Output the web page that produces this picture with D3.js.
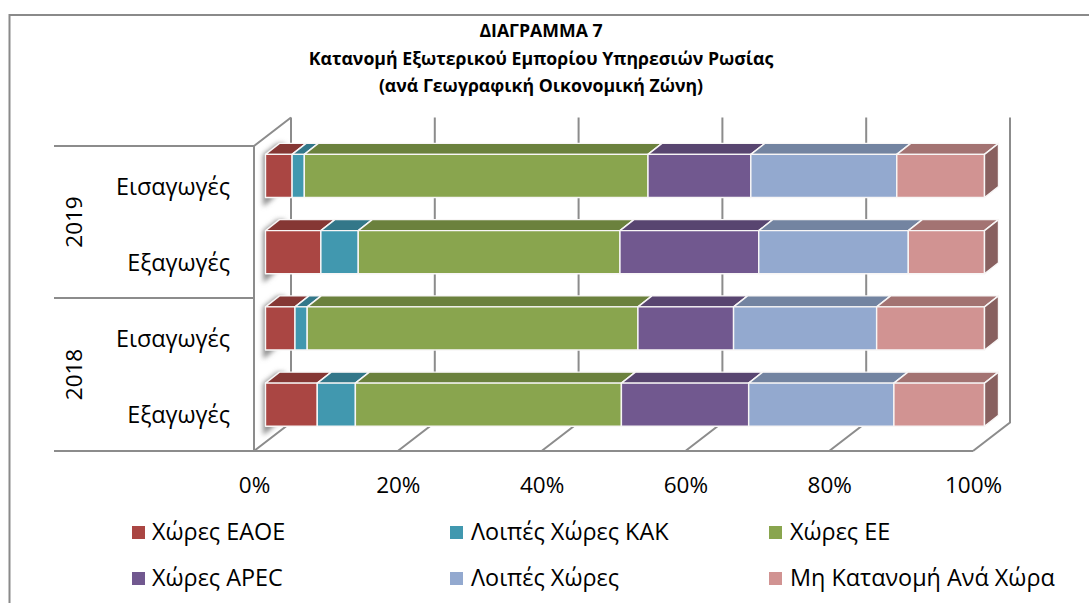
<!DOCTYPE html>
<html>
<head>
<meta charset="utf-8">
<script src="https://d3js.org/d3.v7.min.js"></script>
<style>
  html, body { margin: 0; padding: 0; background: #fff; overflow: hidden; }
  text { font-family: "Open Sans", sans-serif; fill: #000; }
</style>
</head>
<body>
<div id="mid"></div>
<script>
var titleLines = ["ΔΙΑΓΡΑΜΜΑ 7", "Κατανομή Εξωτερικού Εμπορίου Υπηρεσιών Ρωσίας", "(ανά Γεωγραφική Οικονομική Ζώνη)"];
var rows = ["2019-imp", "2019-exp", "2018-imp", "2018-exp"];
var rowLabels = ["Εισαγωγές", "Εξαγωγές", "Εισαγωγές", "Εξαγωγές"];
var years = ["2019", "2018"];
var seriesNames = ["Χώρες ΕΑΟΕ", "Λοιπές Χώρες ΚΑΚ", "Χώρες ΕΕ", "Χώρες APEC", "Λοιπές Χώρες", "Μη Κατανομή Ανά Χώρα"];
var seriesColors = ["#aa4643", "#4198af", "#89a54e", "#71588f", "#93a9cf", "#d19392"];
var eaoe = [3.7, 7.7, 4.1, 7.2];
var kak = [1.7, 5.2, 1.7, 5.3];
var ee = [47.8, 36.4, 46.0, 37.0];
var apec = [14.3, 19.3, 13.3, 17.7];
var loipes = [20.3, 20.8, 19.9, 20.2];
var mh = [12.2, 10.6, 15.0, 12.6];
var ticks = [0, 20, 40, 60, 80, 100];

var width = 1089, height = 603;
var lineColor = "#8c8c8c";
var wallDx = 37, wallDy = -28.5;     // depth of the 3d box
var barDx = 14, barDy = -11;         // depth of a bar
var barOffX = 11.5, barOffY = -8.2;  // bars sit a bit inside the box

var svg = d3.select("#mid").append("svg")
  .attr("width", width)
  .attr("height", height)
  .style("display", "block");

var blur = svg.append("defs").append("filter").attr("id", "soft")
  .attr("x", "-50%").attr("y", "-50%").attr("width", "200%").attr("height", "200%");
blur.append("feGaussianBlur").attr("stdDeviation", 2.6);

// outer frame, only top and left are in the crop
svg.append("path")
  .attr("d", "M9.5,603V15H1089")
  .attr("fill", "none").attr("stroke", "#8a8a8a").attr("stroke-width", 2);

var x = d3.scaleLinear().domain([0, 100]).range([254, 973]);
var y = d3.scaleBand().domain(rows).range([146, 451]).paddingInner(0.436).paddingOuter(0.218);
var top0 = x.range()[0], yTop = y.range()[0], yBot = y.range()[1];

// title
svg.append("g").selectAll("text").data(titleLines).join("text")
  .attr("x", 541)
  .attr("y", function(d, i) { return [37, 65, 92][i]; })
  .attr("text-anchor", "middle")
  .attr("font-size", 17.7)
  .attr("font-weight", 700)
  .text(function(d) { return d; });

// box: walls, floor and grid
var grid = svg.append("g").attr("fill", "none").attr("stroke", lineColor).attr("stroke-width", 2);
ticks.forEach(function(t) {
  grid.append("path").attr("d", d3.line()([
    [x(t), yBot],
    [x(t) + wallDx, yBot + wallDy],
    [x(t) + wallDx, yTop + wallDy]
  ]));
});
grid.append("path").attr("d", d3.line()([[54, yTop], [top0, yTop], [top0 + wallDx, yTop + wallDy]]));
grid.append("path").attr("d", d3.line()([[54, yBot], [x(100), yBot]]));
grid.append("path").attr("d", d3.line()([[54, 298], [top0, 298]]));
grid.append("path").attr("d", d3.line()([[top0, yTop], [top0, yBot]]));

// stacked values
var table = rows.map(function(r, i) {
  return { row: r, s0: eaoe[i], s1: kak[i], s2: ee[i], s3: apec[i], s4: loipes[i], s5: mh[i] };
});
var stacked = d3.stack().keys(["s0", "s1", "s2", "s3", "s4", "s5"])(table);

function bx(v) { return x(v) + barOffX; }
function by(r) { return y(r) + barOffY; }

// grey shadow on the left wall behind each bar
svg.append("g").selectAll("path").data(rows).join("path")
  .attr("d", function(r) {
    var t = by(r), b = t + y.bandwidth(), l = top0 + 9;
    return d3.line()([[l, t], [l + barDx, t + barDy], [l + 22, t + barDy], [l + 22, b - 12], [l + 8, b + 3], [l, b + 9]]);
  })
  .attr("fill", "#8f8f8f")
  .attr("filter", "url(#soft)");

// bars, top face then front face, side face on the last one
var barGroup = svg.append("g").attr("stroke", "#f8f6f6").attr("stroke-width", 1.4).attr("stroke-linejoin", "round");
stacked.forEach(function(layer, k) {
  var c = d3.color(seriesColors[k]);
  var g = barGroup.append("g");
  g.selectAll("path.top").data(layer).join("path").attr("class", "top")
    .attr("fill", d3.rgb(c.r * 0.78, c.g * 0.78, c.b * 0.78))
    .attr("d", function(d) {
      var t = by(d.data.row);
      return d3.line()([[bx(d[0]), t], [bx(d[0]) + barDx, t + barDy], [bx(d[1]) + barDx, t + barDy], [bx(d[1]), t]]) + "Z";
    });
  g.selectAll("rect").data(layer).join("rect")
    .attr("x", function(d) { return bx(d[0]); })
    .attr("y", function(d) { return by(d.data.row); })
    .attr("width", function(d) { return bx(d[1]) - bx(d[0]); })
    .attr("height", y.bandwidth())
    .attr("fill", c);
  if (k == stacked.length - 1) {
    g.selectAll("path.side").data(layer).join("path").attr("class", "side")
      .attr("fill", d3.rgb(c.r * 0.65, c.g * 0.65, c.b * 0.65))
      .attr("d", function(d) {
        var t = by(d.data.row), b = t + y.bandwidth();
        return d3.line()([[bx(d[1]), t], [bx(d[1]) + barDx, t + barDy], [bx(d[1]) + barDx, b + barDy], [bx(d[1]), b]]) + "Z";
      });
  }
});

// x axis labels
var xAxis = d3.axisBottom(x).tickValues(ticks).tickSize(0).tickPadding(0)
  .tickFormat(function(d) { return d + "%"; });
var axisG = svg.append("g").attr("transform", "translate(0," + 473 + ")").call(xAxis);
axisG.select(".domain").remove();
axisG.selectAll("text").attr("font-size", 22.5).attr("font-family", "\"Open Sans\", sans-serif").attr("dy", 0).attr("y", 20);

// category labels and years
svg.append("g").selectAll("text").data(rows).join("text")
  .attr("x", 230)
  .attr("y", function(r) { return y(r) + y.bandwidth() / 2 + 10.5; })
  .attr("text-anchor", "end")
  .attr("font-size", 23.4)
  .text(function(r, i) { return rowLabels[i]; });
svg.append("g").selectAll("text").data(years).join("text")
  .attr("transform", function(d, i) { return "translate(" + 82 + "," + (yTop + 76 + i * 152.5) + ") rotate(-90)"; })
  .attr("text-anchor", "middle")
  .attr("font-size", 22.5)
  .text(function(d) { return d; });

// legend, two rows of three
var legendX = [132, 450, 769];
var legendTextX = [152, 471, 790];
var legendY = [526, 572];
var legend = svg.append("g").selectAll("g").data(seriesNames).join("g");
legend.append("rect")
  .attr("x", function(d, i) { return legendX[i % 3]; })
  .attr("y", function(d, i) { return legendY[Math.floor(i / 3)]; })
  .attr("width", 13).attr("height", 13)
  .attr("fill", function(d, i) { return seriesColors[i]; });
legend.append("text")
  .attr("x", function(d, i) { return legendTextX[i % 3]; })
  .attr("y", function(d, i) { return legendY[Math.floor(i / 3)] + 14; })
  .attr("font-size", 23.4)
  .text(function(d) { return d; });
</script>
</body>
</html>
